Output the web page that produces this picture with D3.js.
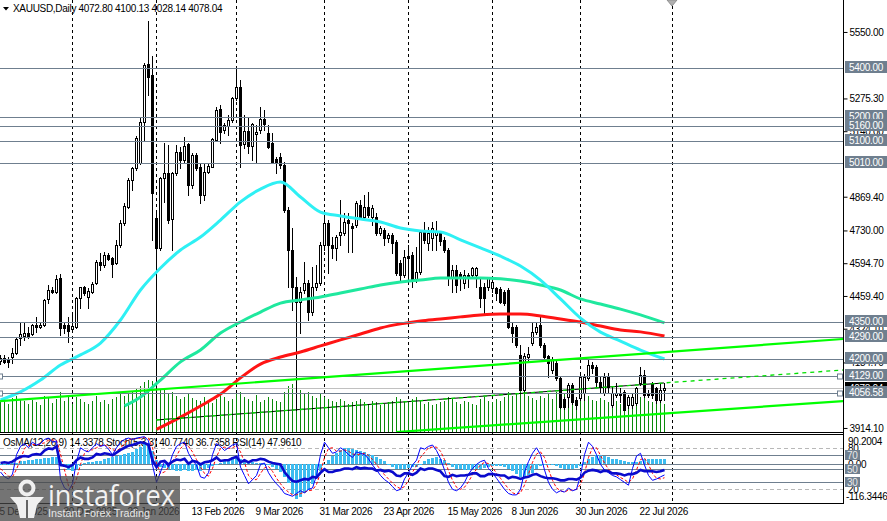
<!DOCTYPE html>
<html><head><meta charset="utf-8">
<script src="https://cdn.jsdelivr.net/npm/d3@7"></script>
<style>
html,body{margin:0;padding:0;background:#fff;overflow:hidden}
svg{display:block;font-family:"Liberation Sans",Arial,sans-serif;font-size:10px;letter-spacing:-0.3px}
</style></head><body>
<svg id="c" width="887" height="521"></svg>
<script>
// ---------- DATA ----------
const symbolTitle = "XAUUSD,Daily";
const oscTitle = "OsMA(12,26,9) 14.3378  Stoch(5,3,3) 40.7740 36.7358  RSI(14) 47.9610";
const opens=[4191,4203,4199,4207,4224,4286,4294,4306,4302,4339,4331,4339,4447,4484,4476,4534,4339,4339,4323,4331,4451,4496,4455,4476,4513,4600,4587,4629,4616,4596,4670,4761,4827,4938,4988,5009,5178,5418,5372,4781,4658,4947,4967,4777,4967,5054,5021,5087,4918,5042,4992,4877,4972,4992,5104,5232,5145,5162,5186,5277,5323,5087,5141,5079,5128,5145,5190,5133,5091,5025,5033,5000,4815,4649,4496,4434,4484,4513,4393,4496,4513,4670,4761,4670,4658,4711,4720,4773,4748,4753,4835,4786,4827,4786,4786,4720,4732,4699,4711,4682,4596,4546,4625,4629,4525,4558,4732,4678,4699,4711,4720,4691,4649,4538,4567,4550,4513,4546,4546,4546,4496,4496,4496,4492,4492,4488,4476,4484,4331,4331,4215,4071,4207,4265,4310,4339,4257,4211,4153,4182,4120,4034,4042,4092,4030,4038,4058,4120,4174,4166,4104,4058,4125,4009,4050,4058,4063,4009,4009,4017,4100,4133,4058,4096,4079,4030,4072.80];
const highs=[4215,4215,4207,4244,4290,4352,4348,4331,4344,4373,4348,4447,4505,4496,4546,4550,4352,4373,4381,4455,4496,4501,4492,4517,4608,4637,4641,4637,4620,4691,4773,4843,4947,4992,5120,5195,5422,5595,5451,4815,4951,5091,5083,4972,5083,5075,5116,5091,5050,5050,5009,5009,5009,5112,5240,5248,5174,5207,5281,5401,5352,5207,5195,5174,5166,5240,5228,5166,5133,5033,5050,5013,4827,4740,4538,4496,4600,4525,4579,4587,4682,4794,4773,4703,4711,4856,4802,4802,4761,4852,4856,4877,4889,4835,4802,4748,4740,4720,4720,4691,4608,4649,4670,4641,4662,4732,4765,4744,4765,4769,4728,4703,4658,4587,4587,4558,4567,4554,4579,4579,4534,4513,4538,4538,4496,4496,4484,4492,4348,4339,4257,4224,4248,4352,4352,4381,4265,4215,4207,4195,4125,4042,4100,4100,4042,4133,4137,4195,4187,4174,4125,4141,4141,4083,4100,4079,4071,4050,4058,4083,4166,4154,4071,4104,4083,4100,4100.13];
const lows=[4178,4182,4166,4182,4220,4257,4278,4286,4298,4311,4327,4335,4430,4472,4472,4298,4306,4269,4319,4327,4410,4463,4410,4472,4509,4567,4579,4608,4538,4591,4662,4753,4823,4897,4980,5005,5104,5290,4691,3947,4649,4848,4761,4649,4959,4988,5013,4877,4905,4980,4843,4856,4967,4992,5100,5091,5133,5124,5178,5269,4992,5071,5050,5021,5013,5133,5145,5071,5009,4967,4988,4806,4496,4401,3989,4306,4472,4360,4381,4484,4505,4649,4554,4616,4608,4670,4711,4641,4641,4744,4781,4773,4786,4753,4711,4711,4670,4682,4637,4546,4517,4538,4513,4496,4517,4550,4678,4649,4649,4649,4670,4641,4505,4476,4476,4484,4492,4496,4538,4496,4414,4381,4484,4476,4443,4430,4422,4327,4269,4248,4071,4063,4195,4257,4302,4248,4195,4125,4141,4112,3997,3992,4001,4013,3992,4030,4030,4112,4141,4083,4058,4050,4058,4001,4042,4021,3988,3997,3997,4009,4092,4042,4042,4038,4017,4021,4028.14];
const closes=[4203,4187,4187,4224,4282,4302,4306,4294,4339,4331,4339,4443,4484,4476,4530,4327,4327,4315,4335,4451,4496,4472,4480,4509,4600,4587,4629,4612,4591,4670,4761,4831,4938,4988,5112,5178,5414,5364,4885,4658,4947,4967,4773,4967,5054,5021,5079,4918,5042,4988,4877,4972,4996,5108,5228,5137,5166,5186,5277,5323,5083,5141,5079,5170,5137,5190,5170,5075,5013,5013,5000,4815,4649,4496,4434,4476,4513,4393,4496,4513,4670,4761,4670,4658,4703,4724,4765,4761,4740,4843,4786,4827,4794,4823,4720,4740,4699,4711,4678,4554,4546,4620,4616,4525,4558,4724,4691,4720,4740,4724,4686,4649,4538,4567,4505,4538,4546,4538,4575,4575,4451,4451,4534,4517,4472,4434,4430,4331,4306,4257,4071,4211,4220,4310,4331,4257,4207,4182,4195,4120,4001,4001,4092,4021,4009,4125,4125,4174,4162,4104,4083,4125,4083,4058,4058,4050,3988,4042,4042,4079,4133,4050,4050,4050,4030,4071,4078.04];
const volumes=[150,160,140,170,180,165,155,140,160,150,135,180,170,145,165,200,155,180,140,175,165,150,140,155,180,150,160,140,165,175,190,180,195,200,220,230,250,260,255,245,220,210,190,200,180,165,175,190,170,160,155,175,150,145,165,185,175,155,165,190,200,175,165,155,185,150,160,175,165,155,150,200,230,240,250,210,190,200,180,170,190,175,165,155,150,165,155,140,150,155,165,150,140,155,150,135,140,150,155,175,165,155,150,165,175,155,140,150,135,140,150,155,175,165,150,140,155,150,140,135,165,175,155,150,165,155,175,200,180,190,220,210,180,170,160,180,170,190,165,200,210,190,170,180,165,200,170,180,160,155,170,160,150,170,155,140,190,155,150,165,175,180,155,150,165,155,140];
const osma=[-3,-2,0,2,4,8,10,12,13,14,15,17,19,20,22,10,-8,-18,-22,-15,-6,2,5,7,8,9,14,17,20,23,26,29,32,36,44,52,60,63,40,12,-8,-12,-16,-18,-20,-20,-19,-21,-20,-18,-20,-16,-12,-6,0,4,10,16,20,18,14,12,8,6,4,3,1,-2,-8,-16,-25,-40,-58,-90,-106,-100,-86,-78,-60,-40,-20,-4,12,24,34,42,48,47,45,42,40,36,30,26,20,14,8,-4,-10,-14,-16,-15,-12,-10,-8,-2,8,14,18,20,16,12,4,-8,-14,-16,-18,-17,-15,-14,-14,-12,-8,-6,-5,-6,-8,-14,-22,-30,-38,-40,-34,-26,-14,-6,-2,0,-2,-6,-12,-16,-15,-14,-12,-5,5,14,22,26,26,24,20,16,14,12,10,7,5,6,10,14,16,15,14,14,14.3378];
const stochK=[45,38,35,42,70,82,86,80,88,84,86,92,94,88,90,35,22,18,28,60,80,76,74,80,86,82,84,78,70,80,88,92,94,92,94,95,96,90,55,30,45,60,52,70,82,86,88,72,62,55,38,36,44,70,86,82,76,80,84,86,52,40,28,34,40,56,58,44,35,28,22,14,12,10,14,18,15,20,22,40,70,88,80,72,74,80,76,70,66,74,72,70,64,55,48,40,34,30,24,18,20,35,44,55,62,80,78,82,84,76,64,48,30,20,18,22,30,42,50,56,60,62,50,44,36,28,20,14,12,12,20,45,60,72,80,70,48,30,20,15,18,16,22,18,20,40,70,88,82,70,56,48,44,40,38,34,30,26,50,68,72,55,40,33,35,38,40.774];
const stochD=[50,44,39,38,49,63,79,83,85,84,86,87,91,91,91,71,48,25,23,35,56,72,77,77,80,83,84,81,77,76,79,87,91,93,93,94,95,94,80,58,43,45,52,61,68,79,85,82,74,63,52,43,39,50,67,79,81,79,80,83,74,59,40,34,34,43,51,53,46,36,28,21,16,12,12,14,16,18,19,27,44,66,79,80,75,75,77,75,71,70,71,72,69,63,56,48,41,35,29,24,21,24,33,45,54,66,73,80,81,81,75,63,47,33,23,20,23,31,41,49,55,59,57,52,43,36,28,21,15,13,15,26,42,59,71,74,66,49,33,22,18,16,19,19,20,27,43,66,80,80,69,58,49,44,41,37,34,30,35,48,63,65,56,43,36,35,36.7358];
const rsi=[58,59,58,60,64,67,68,67,70,71,70,76,79,78,82,55,54,52,55,62,66,64,64,66,71,70,72,71,69,73,77,80,83,84,86,88,87,84,62,52,60,61,56,60,63,62,64,57,61,60,56,59,60,62,66,61,62,62,65,67,59,62,59,62,62,64,63,60,58,57,56,45,38,32,31,33,35,34,38,37,44,49,45,45,47,48,50,50,49,52,50,51,50,50,47,48,46,47,45,40,39,43,43,41,44,50,48,50,50,48,46,39,38,41,39,40,40,41,43,43,39,39,42,42,41,40,40,36,38,37,35,37,38,41,42,39,37,36,36,35,33,33,35,35,34,37,44,47,48,47,45,47,46,43,43,42,40,42,42,44,48,46,46,46,45,46,47.961];
// moving averages read at sample bars
const maFastIdx=[0,5,10,15,20,25,30,35,40,45,50,55,60,65,70,75,80,85,90,95,100,105,110,115,120,125,130,135,140,145,150,155,160,166];
const maFastVal=[4030,4063,4112,4174,4216,4265,4360,4484,4575,4649,4703,4773,4848,4901,4930,4868,4806,4790,4777,4765,4740,4728,4724,4691,4658,4624,4583,4525,4447,4368,4310,4273,4236,4199];
const maMidIdx=[31,35,38,40,45,50,55,60,65,70,75,80,85,90,95,100,105,110,115,120,125,130,135,140,145,150,155,160,166];
const maMidVal=[4005,4042,4083,4112,4187,4236,4306,4352,4393,4430,4443,4455,4472,4488,4505,4517,4525,4534,4534,4534,4530,4521,4505,4484,4447,4426,4405,4381,4348];
const maSlowIdx=[39,45,50,55,60,65,70,75,80,85,90,95,100,105,110,115,120,125,130,135,140,145,150,155,160,166];
const maSlowVal=[3908,3959,4005,4054,4121,4178,4207,4228,4253,4278,4302,4327,4344,4356,4364,4373,4381,4385,4385,4377,4364,4352,4335,4319,4311,4294];
// trend lines [barIndex, price]
const trendUpperIdx=[0,210.75], trendUpperVal=[4025,4281.6];
const trendLowerIdx=[99,210.75], trendLowerVal=[3897,4025];
const trendDashIdx=[39,166,210.75], trendDashVal=[3947,4100,4153.5];
// horizontal levels
const levels=[5400,5200,5160,5100,5010,4350,4290,4200,4129,4056.58];
const anchoredLevels=[4129,4056.58];
const bidPrice=4078.04;
const priceTicks=[5550.00,5275.30,5140.00,4869.40,4730.00,4594.70,4459.40,4324.10,4184.70,3914.10];
const dateIdx=[0,16,32,48,64,80,96,112,128,144,160];
const dateLabels=["5 Dec 2025","30 Dec 2025","22 Jan 2026","13 Feb 2026","9 Mar 2026","31 Mar 2026","23 Apr 2026","15 May 2026","8 Jun 2026","30 Jun 2026","22 Jul 2026"];
const monthStartIdx=[18,39,59,81,102,123,145,168];
const oscBoxLevels=[70,50,30], oscDashLevels=[80,20];
const oscMax=90.2004, oscMin=-116.3446;

// ---------- LAYOUT ----------
const svg=d3.select('#c');
const FONT='"Liberation Sans",Arial,sans-serif';
const plotW=843, mainB=432, oscT=434, oscB=503;
const x=d3.scaleLinear().domain([0,210.75]).range([0,plotW]);
const y=d3.scaleLinear().domain([3897.4,5682]).range([mainB,0]);
const yV=d3.scaleLinear().domain([0,260]).range([mainB,mainB-52]);
const yP=d3.scaleLinear().domain([0,100]).range([503.2,433.9]);
const yO=d3.scaleLinear().domain([oscMin,oscMax]).range([oscB,oscT]);
const N=closes.length, bars=d3.range(N);
const R=v=>Math.round(v);

const defs=svg.append('defs');
defs.append('clipPath').attr('id','cm').append('rect').attr('x',0).attr('y',0).attr('width',plotW).attr('height',mainB);
defs.append('clipPath').attr('id','co').append('rect').attr('x',0).attr('y',oscT).attr('width',plotW).attr('height',oscB-oscT);

// month separators
svg.append('g').selectAll('line').data(monthStartIdx).join('line')
  .attr('x1',d=>R(x(d))+0.5).attr('x2',d=>R(x(d))+0.5).attr('y1',0).attr('y2',oscB)
  .attr('stroke','#000').attr('stroke-dasharray','3,3').attr('stroke-width',1);

const gm=svg.append('g').attr('clip-path','url(#cm)');
// volumes
gm.append('g').selectAll('line').data(bars).join('line')
  .attr('x1',i=>R(x(i))+0.5).attr('x2',i=>R(x(i))+0.5)
  .attr('y1',mainB).attr('y2',i=>R(yV(volumes[i])))
  .attr('stroke','#0a8a0a').attr('stroke-width',1);
// bid line
gm.append('line').attr('x1',0).attr('x2',plotW).attr('y1',R(y(bidPrice))+0.5).attr('y2',R(y(bidPrice))+0.5)
  .attr('stroke','#c0c0c0');
// candles
const gc=gm.append('g');
gc.selectAll('line').data(bars).join('line')
  .attr('x1',i=>R(x(i))+0.5).attr('x2',i=>R(x(i))+0.5)
  .attr('y1',i=>R(y(highs[i]))).attr('y2',i=>R(y(lows[i]))+1)
  .attr('stroke','#000').attr('stroke-width',1);
gc.selectAll('rect').data(bars).join('rect')
  .each(function(i){
    const up=closes[i]>=opens[i];
    const top=R(y(Math.max(opens[i],closes[i]))), bot=R(y(Math.min(opens[i],closes[i])));
    const h=Math.max(1,bot-top);
    const s=d3.select(this);
    if(up){ s.attr('x',R(x(i))-0.5).attr('y',top+0.5).attr('width',2).attr('height',h).attr('fill','#fff').attr('stroke','#000').attr('stroke-width',1); }
    else { s.attr('x',R(x(i))-1).attr('y',top).attr('width',3).attr('height',h+1).attr('fill','#000'); }
  });
// moving averages
const maLine=(idx,val)=>d3.line().x((d,k)=>x(idx[k])+0.5).y((d,k)=>y(val[k])).curve(d3.curveMonotoneX)(val);
gm.append('path').attr('d',maLine(maSlowIdx,maSlowVal)).attr('fill','none').attr('stroke','#ff1414').attr('stroke-width',3);
gm.append('path').attr('d',maLine(maMidIdx,maMidVal)).attr('fill','none').attr('stroke','#1fe89e').attr('stroke-width',3);
gm.append('path').attr('d',maLine(maFastIdx,maFastVal)).attr('fill','none').attr('stroke','#2ef0f4').attr('stroke-width',3);
// levels
gm.append('g').selectAll('line').data(levels).join('line')
  .attr('x1',0).attr('x2',plotW).attr('y1',d=>R(y(d))+0.5).attr('y2',d=>R(y(d))+0.5)
  .attr('stroke','#6f7f8f').attr('stroke-width',1);
// trend lines
const tl=(idx,val)=>d3.line().x((d,k)=>x(idx[k])).y((d,k)=>y(val[k]))(val);
gm.append('path').attr('d',tl(trendDashIdx.slice(0,2),trendDashVal.slice(0,2))).attr('stroke','#000').attr('stroke-width',1).attr('fill','none');
gm.append('path').attr('d',tl(trendDashIdx,trendDashVal)).attr('stroke','#00e000').attr('stroke-width',1.3).attr('stroke-dasharray','4,4').attr('fill','none');
gm.append('path').attr('d',tl(trendUpperIdx,trendUpperVal)).attr('stroke','#00ff00').attr('stroke-width',2.2).attr('fill','none');
gm.append('path').attr('d',tl(trendLowerIdx,trendLowerVal)).attr('stroke','#00ff00').attr('stroke-width',2.2).attr('fill','none');
// anchor squares
anchoredLevels.forEach(v=>{
  [0,840].forEach(px=>{
    svg.append('rect').attr('x',px-2.5).attr('y',R(y(v))-2).attr('width',5).attr('height',5)
      .attr('fill','#fff').attr('stroke','#6f7f8f');
  });
});

// header
svg.append('path').attr('d','M3,7 L9,7 L6,10.5 Z').attr('fill','#000');
svg.append('text').attr('x',13).attr('y',11.5).attr('fill','#000')
  .text(symbolTitle+'  '+[opens[N-1],highs[N-1],lows[N-1],closes[N-1]].map(d=>d.toFixed(2)).join(' '));
// chart shift marker
svg.append('path').attr('d','M667,0 L677,0 L672,6 Z').attr('fill','#b0b0b0').attr('stroke','#909090');

// ---------- OSCILLATOR ----------
svg.append('text').attr('x',3).attr('y',446).attr('fill','#000').text(oscTitle);
const go=svg.append('g').attr('clip-path','url(#co)');
go.selectAll('.ld').data(oscDashLevels).join('line').attr('class','ld')
  .attr('x1',0).attr('x2',plotW).attr('y1',d=>R(yP(d))+0.5).attr('y2',d=>R(yP(d))+0.5)
  .attr('stroke','#b8b8b8').attr('stroke-dasharray','4,3');
go.selectAll('.ls').data(oscBoxLevels).join('line').attr('class','ls')
  .attr('x1',0).attr('x2',plotW).attr('y1',d=>R(yP(d))+0.5).attr('y2',d=>R(yP(d))+0.5)
  .attr('stroke','#6f7f8f');
go.append('line').attr('x1',0).attr('x2',plotW).attr('y1',R(yO(0))+0.5).attr('y2',R(yO(0))+0.5).attr('stroke','#6f7f8f');
go.append('g').selectAll('rect').data(bars).join('rect')
  .attr('x',i=>R(x(i))-1).attr('width',3)
  .attr('y',i=>R(Math.min(yO(0),yO(osma[i])))).attr('height',i=>Math.max(1,R(Math.abs(yO(osma[i])-yO(0)))))
  .attr('fill','#3cbcf0');
const oline=arr=>d3.line().x((d,i)=>x(i)+0.5).y(d=>yP(d))(arr);
go.append('path').attr('d',oline(stochD)).attr('fill','none').attr('stroke','#ff0000').attr('stroke-width',1).attr('stroke-dasharray','3,2');
go.append('path').attr('d',oline(stochK)).attr('fill','none').attr('stroke','#0000ff').attr('stroke-width',1);
go.append('path').attr('d',oline(rsi)).attr('fill','none').attr('stroke','#0a0acc').attr('stroke-width',2.6);

// ---------- FRAMES ----------
svg.append('line').attr('x1',plotW+0.5).attr('x2',plotW+0.5).attr('y1',0).attr('y2',oscB+1).attr('stroke','#000');
[mainB+0.5,oscT+0.5,oscB+0.5].forEach(v=>svg.append('line').attr('x1',0).attr('x2',plotW+1).attr('y1',v).attr('y2',v).attr('stroke','#000'));

// ---------- PRICE AXIS ----------
const gy=svg.append('g').attr('transform',`translate(${plotW+0.5},0)`)
  .call(d3.axisRight(y).tickValues(priceTicks).tickFormat(d3.format('.2f')).tickSize(4).tickPadding(2));
gy.select('.domain').remove();
gy.selectAll('line').attr('stroke','#000');
gy.selectAll('text').attr('font-family',FONT).attr('font-size',10).attr('fill','#000').attr('dy','0.34em');
// bid label
const bidY=R(y(bidPrice));
svg.append('rect').attr('x',plotW+2).attr('y',bidY-6).attr('width',44).attr('height',12).attr('fill','#000');
svg.append('text').attr('x',plotW+6).attr('y',bidY+3.5).attr('fill','#fff').text(bidPrice.toFixed(2));
// level labels
const gl=svg.append('g');
levels.forEach(v=>{
  const ly=R(y(v));
  gl.append('rect').attr('x',plotW+2).attr('y',ly-7).attr('width',44).attr('height',12).attr('fill','#6f7f8f');
  gl.append('text').attr('x',plotW+6).attr('y',ly+3).attr('fill','#fff').text(v.toFixed(2));
});

// ---------- OSC AXIS ----------
const ga=svg.append('g');
ga.append('text').attr('x',plotW+5).attr('y',oscT+11).attr('fill','#000').text(oscMax.toFixed(4));
oscDashLevels.forEach(v=>ga.append('text').attr('x',plotW+5).attr('y',R(yP(v))+3.5).attr('fill','#000').text(v));
ga.append('text').attr('x',plotW+5).attr('y',R(yO(0))+3.5).attr('fill','#000').text('0.00');
ga.append('text').attr('x',plotW+3).attr('y',oscB-3).attr('fill','#000').text(oscMin.toFixed(4));
oscBoxLevels.forEach(v=>{
  const ly=R(yP(v));
  ga.append('rect').attr('x',plotW+2).attr('y',ly-5).attr('width',15).attr('height',10).attr('fill','#6f7f8f');
  ga.append('text').attr('x',plotW+4).attr('y',ly+3.5).attr('fill','#e8e8e8').text(v);
});

// ---------- DATE AXIS ----------
const gx=svg.append('g').attr('transform',`translate(0,${oscB})`)
  .call(d3.axisBottom(x).tickValues(dateIdx).tickFormat((d,i)=>dateLabels[i]).tickSize(0).tickPadding(0));
gx.select('.domain').remove();
gx.selectAll('text').attr('font-family',FONT).attr('font-size',10).attr('fill','#000')
  .attr('text-anchor','start').attr('x',-1).attr('y',12).attr('dy',0);

// ---------- LOGO ----------
const lg=svg.append('g');
lg.append('rect').attr('x',0).attr('y',476).attr('width',180).attr('height',45).attr('fill','rgb(70,70,70)').attr('fill-opacity',0.75);
lg.append('circle').attr('cx',27).attr('cy',488).attr('r',6.5).attr('fill','none').attr('stroke','#f0f0f0').attr('stroke-width',4);
lg.append('path').attr('d','M10,497 L44,497 L37,505 L34,518 L20,518 L17,505 Z').attr('fill','#f0f0f0');
lg.append('path').attr('d','M27,500 L27,518').attr('stroke','rgb(100,100,100)').attr('stroke-width',2);
lg.append('text').attr('x',48).attr('y',506).attr('font-family','"Open Sans",Arial,sans-serif').attr('font-size',29)
  .attr('fill','#f2f2f2').attr('textLength',127).attr('lengthAdjust','spacingAndGlyphs').style('letter-spacing','0px').text('instaforex');
lg.append('text').attr('x',48).attr('y',517).attr('font-size',11).attr('fill','#e6e6e6')
  .attr('textLength',102).attr('lengthAdjust','spacingAndGlyphs').style('letter-spacing','0px').text('Instant Forex Trading');
</script>
</body></html>
